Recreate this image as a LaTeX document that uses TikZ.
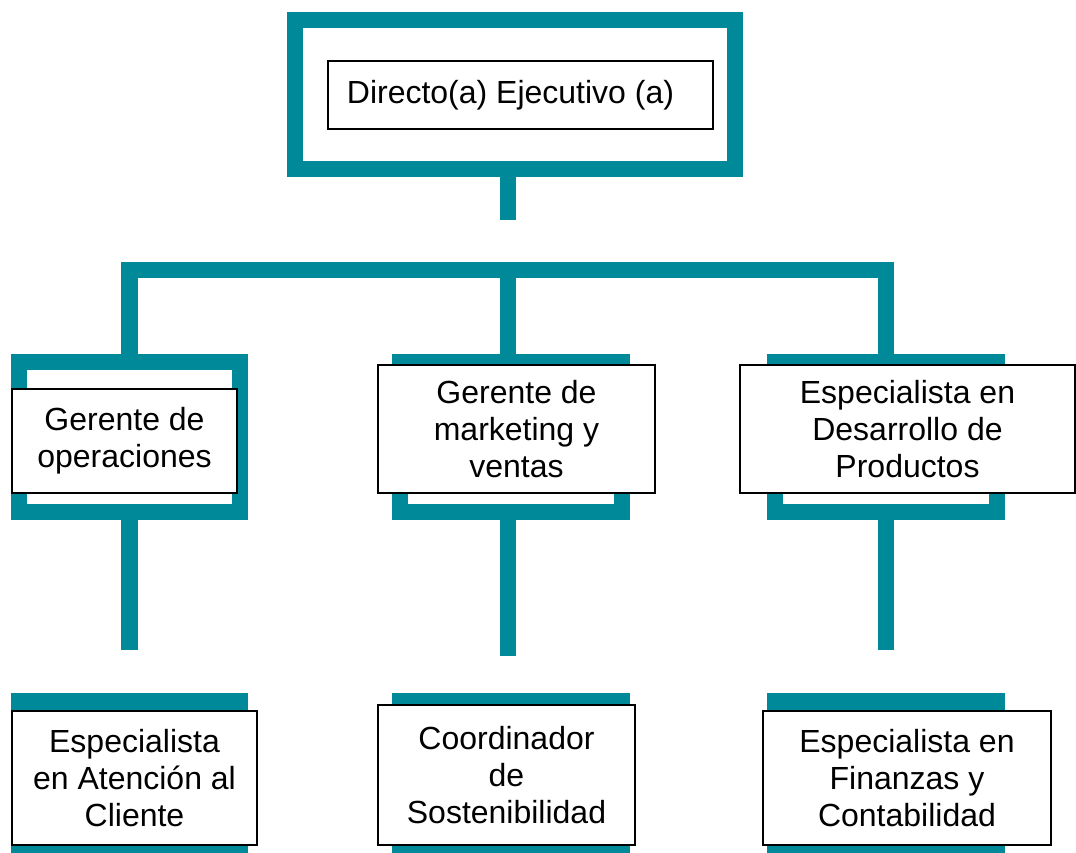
\documentclass[tikz,border=0pt]{standalone}
\usepackage{fontspec}
\setmainfont{Liberation Sans}
\definecolor{orgteal}{RGB}{0,137,153}
\tikzset{
  frame/.style={draw=orgteal, line width=16.5pt, rectangle, inner sep=0pt, minimum width=222pt, minimum height=150pt},
  conn/.style={draw=orgteal, line width=16.5pt, line cap=butt, line join=miter},
  tbox/.style={draw=black, line width=1.1pt, fill=white, rectangle, inner sep=0pt, align=center,
    font=\fontsize{32}{37}\selectfont},
}
\begin{document}
\begin{tikzpicture}[x=1pt,y=-1pt]
\useasboundingbox (0,0) rectangle (1076,853);
\clip (0,0) rectangle (1076,853);
% frames
\node[frame, minimum width=440pt, minimum height=149pt] (f0) at (515,94.5) {};
\node[frame, minimum width=221pt] (fA) at (129.5,437) {};
\node[frame] (fB) at (511,437) {};
\node[frame] (fC) at (886,437) {};
\node[frame, minimum width=221pt] (fD) at (129.5,776.5) {};
\node[frame] (fE) at (511,776.5) {};
\node[frame] (fF) at (886,776.5) {};
% connectors
\coordinate (s0) at (508,220);
\coordinate (bar) at (508,270);
\coordinate (eA) at (129.5,650);
\coordinate (eB) at (508,656);
\coordinate (eC) at (886,650);
\draw[conn] (s0 |- f0.south) -- (s0);
\draw[conn] (fA.north) -- (fA.north |- bar) -- (fC.north |- bar) -- (fC.north);
\draw[conn] (bar) -- (bar |- fB.north);
\draw[conn] (fA.south) -- (eA);
\draw[conn] (eB |- fB.south) -- (eB);
\draw[conn] (fC.south) -- (eC);
% text boxes
\node[tbox, minimum width=385pt, minimum height=68pt] (t0) at (520.5,95) {Directo(a) Ejecutivo (a)\hspace*{20pt}};
\node[tbox, minimum width=225pt, minimum height=104pt] (tA) at (124.5,441) {Gerente de\\operaciones};
\node[tbox, minimum width=277pt, minimum height=128pt] (tB) at (516.5,429) {Gerente de\\marketing y\\ventas};
\node[tbox, minimum width=335pt, minimum height=128pt] (tC) at (907.5,429) {Especialista en\\Desarrollo de\\Productos};
\node[tbox, minimum width=245pt, minimum height=134pt] (tD) at (134.5,778) {Especialista\\en Atención al\\Cliente};
\node[tbox, minimum width=257pt, minimum height=140pt] (tE) at (506.5,775) {Coordinador\\de\\Sostenibilidad};
\node[tbox, minimum width=288pt, minimum height=134pt] (tF) at (907,778) {Especialista en\\Finanzas y\\Contabilidad};
\end{tikzpicture}
\end{document}
